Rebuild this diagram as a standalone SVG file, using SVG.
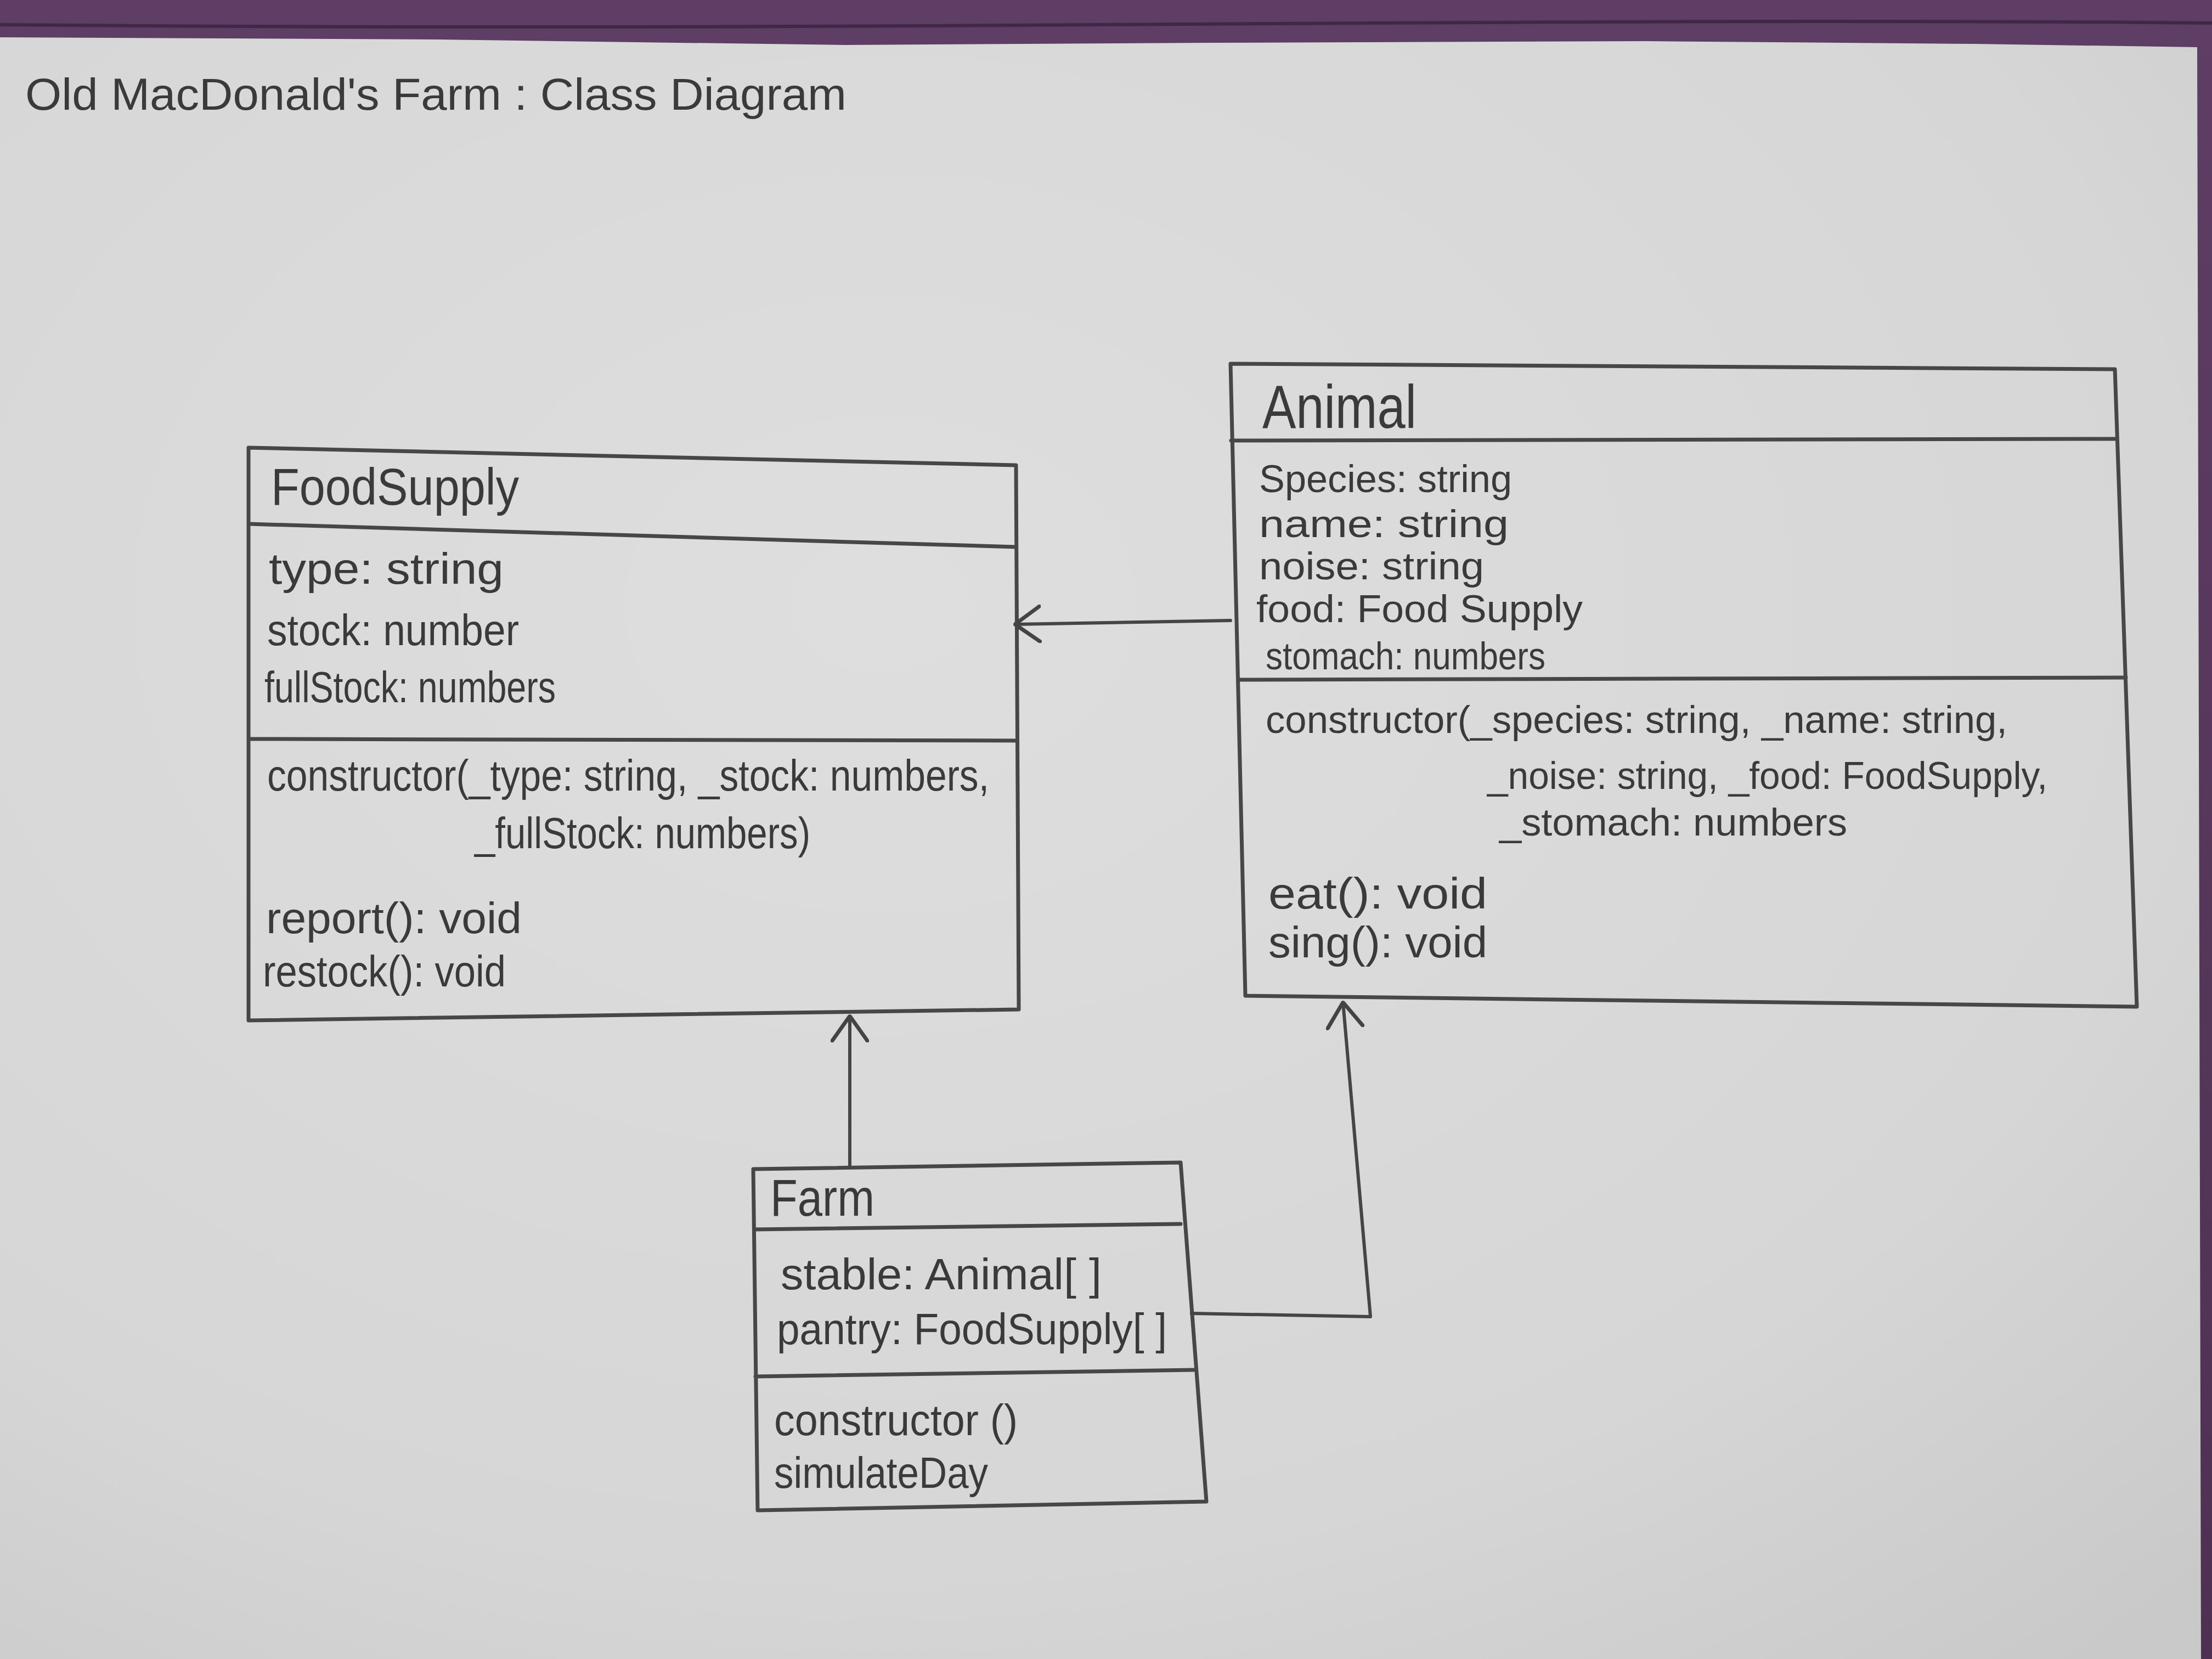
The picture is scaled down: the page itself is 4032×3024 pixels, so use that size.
<svg xmlns="http://www.w3.org/2000/svg" width="4032" height="3024" viewBox="0 0 4032 3024">
<defs>
<radialGradient id="paper" cx="0.4" cy="0.35" r="0.85">
<stop offset="0" stop-color="#dedede"/>
<stop offset="0.7" stop-color="#d6d6d6"/>
<stop offset="1" stop-color="#c9c9c9"/>
</radialGradient>
<linearGradient id="felt" x1="0" y1="0" x2="0" y2="1">
<stop offset="0" stop-color="#5e3e64"/>
<stop offset="1" stop-color="#4e3152"/>
</linearGradient>
<marker id="open" viewBox="0 0 50 70" refX="48" refY="35" markerWidth="50" markerHeight="70" markerUnits="userSpaceOnUse" orient="auto">
<path d="M3,3 L48,35 L3,67" fill="none" stroke="#444" stroke-width="7" stroke-linecap="round" stroke-linejoin="round"/>
</marker>
<style>
.box{fill:none;stroke:#474747;stroke-width:7;stroke-linejoin:round;stroke-linecap:round}
.div{fill:none;stroke:#474747;stroke-width:7;stroke-linecap:round}
.con{fill:none;stroke:#454545;stroke-width:6;stroke-linecap:round;stroke-linejoin:round}
.t{font-family:"Liberation Sans","DejaVu Sans",Arial,sans-serif;fill:#3a3a3a}
.ttl{font-size:82px}
.hd{font-size:95px}
.at{font-size:80px}
.sm{font-size:70px}
</style>
</defs>
<rect x="0" y="0" width="4032" height="3024" fill="url(#felt)"/>
<path d="M0,45 C800,52 1600,48 2000,45 C2800,40 3400,36 4032,42" fill="none" stroke="#3f2843" stroke-width="6"/>
<polygon points="0,68 800,72 1540,82 2200,78 3000,75 3600,80 4005,86 4012,3024 0,3024" fill="url(#paper)"/>

<text class="t ttl" x="46" y="200" textLength="1497" lengthAdjust="spacingAndGlyphs">Old MacDonald's Farm : Class Diagram</text>

<g id="FoodSupply">
<polygon class="box" points="453,816 1852,848 1857,1840 453,1860"/>
<line class="div" x1="455" y1="955" x2="1852" y2="997"/>
<line class="div" x1="455" y1="1347" x2="1854" y2="1350"/>
<text class="t hd" x="494" y="920" textLength="452" lengthAdjust="spacingAndGlyphs">FoodSupply</text>
<text class="t at" x="490" y="1064" textLength="428" lengthAdjust="spacingAndGlyphs">type: string</text>
<text class="t at" x="487" y="1176" textLength="459" lengthAdjust="spacingAndGlyphs">stock: number</text>
<text class="t at" x="482" y="1280" textLength="531" lengthAdjust="spacingAndGlyphs">fullStock: numbers</text>
<text class="t at" x="487" y="1441" textLength="1316" lengthAdjust="spacingAndGlyphs">constructor(_type: string, _stock: numbers,</text>
<text class="t at" x="865" y="1546" textLength="612" lengthAdjust="spacingAndGlyphs">_fullStock: numbers)</text>
<text class="t at" x="485" y="1701" textLength="466" lengthAdjust="spacingAndGlyphs">report(): void</text>
<text class="t at" x="479" y="1798" textLength="443" lengthAdjust="spacingAndGlyphs">restock(): void</text>
</g>

<g id="Animal">
<polygon class="box" points="2243,663 3855,673 3895,1835 2270,1815"/>
<line class="div" x1="2244" y1="803" x2="3857" y2="800"/>
<line class="div" x1="2258" y1="1239" x2="3875" y2="1235"/>
<text class="t" style="font-size:112px" x="2301" y="780" textLength="281" lengthAdjust="spacingAndGlyphs">Animal</text>
<text class="t sm" x="2295" y="897" textLength="461" lengthAdjust="spacingAndGlyphs">Species: string</text>
<text class="t sm" x="2295" y="979" textLength="455" lengthAdjust="spacingAndGlyphs">name: string</text>
<text class="t sm" x="2295" y="1056" textLength="410" lengthAdjust="spacingAndGlyphs">noise: string</text>
<text class="t sm" x="2290" y="1134" textLength="595" lengthAdjust="spacingAndGlyphs">food: Food Supply</text>
<text class="t sm" x="2307" y="1220" textLength="510" lengthAdjust="spacingAndGlyphs">stomach: numbers</text>
<text class="t sm" x="2307" y="1336" textLength="1352" lengthAdjust="spacingAndGlyphs">constructor(_species: string, _name: string,</text>
<text class="t sm" x="2711" y="1438" textLength="1021" lengthAdjust="spacingAndGlyphs">_noise: string, _food: FoodSupply,</text>
<text class="t sm" x="2733" y="1523" textLength="634" lengthAdjust="spacingAndGlyphs">_stomach: numbers</text>
<text class="t at" x="2312" y="1656" textLength="399" lengthAdjust="spacingAndGlyphs">eat(): void</text>
<text class="t at" x="2312" y="1745" textLength="399" lengthAdjust="spacingAndGlyphs">sing(): void</text>
</g>

<g id="Farm">
<polygon class="box" points="1373,2131 2152,2119 2199,2737 1381,2753"/>
<line class="div" x1="1375" y1="2241" x2="2152" y2="2231"/>
<line class="div" x1="1377" y1="2509" x2="2176" y2="2497"/>
<text class="t hd" x="1404" y="2216" textLength="190" lengthAdjust="spacingAndGlyphs">Farm</text>
<text class="t at" x="1423" y="2350" textLength="585" lengthAdjust="spacingAndGlyphs">stable: Animal[ ]</text>
<text class="t at" x="1416" y="2450" textLength="711" lengthAdjust="spacingAndGlyphs">pantry: FoodSupply[ ]</text>
<text class="t at" x="1411" y="2616" textLength="444" lengthAdjust="spacingAndGlyphs">constructor ()</text>
<text class="t at" x="1411" y="2712" textLength="390" lengthAdjust="spacingAndGlyphs">simulateDay</text>
</g>

<g id="connectors">
<path class="con" d="M2243,1131 L1850,1138" marker-end="url(#open)"/>
<path class="con" d="M1549,2127 L1549,1852" marker-end="url(#open)"/>
<path class="con" d="M2172,2394 L2498,2400 L2448,1827" marker-end="url(#open)"/>
</g>
</svg>
